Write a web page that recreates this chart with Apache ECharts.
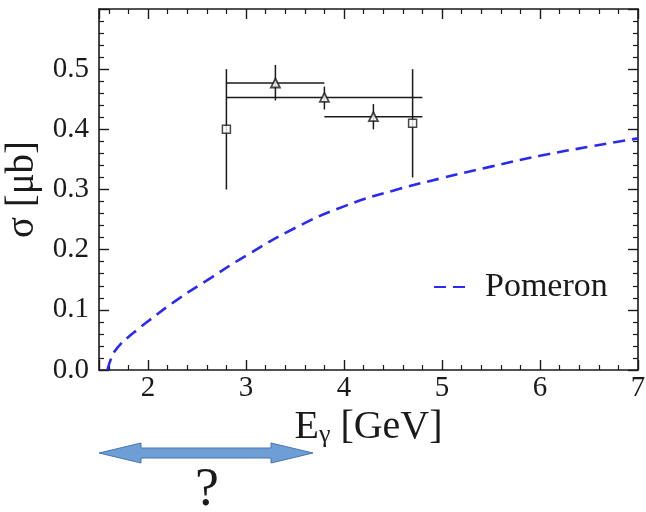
<!DOCTYPE html>
<html>
<head>
<meta charset="utf-8">
<script src="https://cdn.jsdelivr.net/npm/echarts@6/dist/echarts.min.js"></script>
<style>
  html, body { margin: 0; padding: 0; background: #fff; }
  #chart { width: 646px; height: 512px; }
</style>
</head>
<body>
<div id="chart"></div>
<script>
  // Pomeron curve
  var pomX = [1.585, 1.63, 1.66, 1.72, 1.8, 1.9, 2.0, 2.3, 2.65, 3.0, 3.5, 4.0, 4.5, 5.0, 5.5, 6.0, 6.5, 7.0];
  var pomY = [0.0, 0.022, 0.031, 0.043, 0.055, 0.068, 0.081, 0.117, 0.154, 0.190, 0.236, 0.272, 0.298, 0.319, 0.338, 0.356, 0.371, 0.385];

  // open squares
  var sqX = [2.8, 4.7];
  var sqY = [0.40, 0.41];
  var sqLo = [0.30, 0.32];
  var sqHi = [0.50, 0.50];

  // triangles
  var triX = [3.3, 3.8, 4.3];
  var triY = [0.477, 0.453, 0.421];
  var triLo = [0.448, 0.433, 0.400];
  var triHi = [0.507, 0.471, 0.442];
  var triXLo = [2.8, 2.8, 3.8];
  var triXHi = [3.8, 4.8, 4.8];

  var yTicks = ['0.0', '0.1', '0.2', '0.3', '0.4', '0.5'];

  var serif = 'Liberation Serif';
  var ink = '#1a1a1a';

  var pomData = pomX.map(function (x, i) { return [x, pomY[i]]; });
  var sqData = sqX.map(function (x, i) { return [x, sqY[i]]; });
  var triData = triX.map(function (x, i) { return [x, triY[i]]; });
  var vErr = [];
  sqX.forEach(function (x, i) { vErr.push([x, sqLo[i], sqHi[i]]); });
  triX.forEach(function (x, i) { vErr.push([x, triLo[i], triHi[i]]); });
  var hErr = triX.map(function (x, i) { return [triY[i], triXLo[i], triXHi[i]]; });

  function vBar(params, api) {
    var a = api.coord([api.value(0), api.value(1)]);
    var b = api.coord([api.value(0), api.value(2)]);
    return { type: 'line', shape: { x1: a[0], y1: a[1], x2: b[0], y2: b[1] },
      style: { stroke: ink, lineWidth: 1.5 } };
  }
  function hBar(params, api) {
    var a = api.coord([api.value(1), api.value(0)]);
    var b = api.coord([api.value(2), api.value(0)]);
    return { type: 'line', shape: { x1: a[0], y1: a[1], x2: b[0], y2: b[1] },
      style: { stroke: ink, lineWidth: 1.5 } };
  }

  var frameLine = { show: true, onZero: false, lineStyle: { color: ink, width: 1.6 } };
  var tick = { show: true, inside: true, length: 10, lineStyle: { color: ink, width: 1.4 } };
  var minor = { show: true, splitNumber: 5, length: 5, lineStyle: { color: ink, width: 1.2 } };

  var option = {
    animation: false,
    backgroundColor: '#fff',
    grid: { left: 99, right: 8, top: 9, bottom: 142, outerBoundsMode: 'none' },
    legend: {
      left: 428, top: 265,
      itemWidth: 38, itemHeight: 14,
      data: ['Pomeron'],
      itemStyle: { opacity: 0 },
      textStyle: { fontFamily: serif, fontSize: 34, color: ink, padding: [0, 0, 0, 8] }
    },
    xAxis: [{
      type: 'value', min: 1.5, max: 7, position: 'bottom',
      axisLine: frameLine, axisTick: tick, minorTick: minor,
      splitLine: { show: false },
      axisLabel: { showMinLabel: false, fontFamily: serif, fontSize: 29, color: ink, margin: 4 },
      name: '{e|E}{g|γ}{e| [GeV]}',
      nameLocation: 'middle', nameGap: 25,
      nameTextStyle: {
        rich: {
          e: { fontFamily: serif, fontSize: 40, color: ink },
          g: { fontFamily: serif, fontSize: 26, color: ink, verticalAlign: 'bottom', padding: [14, 0, 0, 0] }
        }
      }
    }, {
      type: 'value', min: 1.5, max: 7, position: 'top',
      axisLine: frameLine, axisTick: tick, minorTick: minor,
      splitLine: { show: false }, axisLabel: { show: false }
    }],
    yAxis: [{
      type: 'value', min: 0, max: 0.6, interval: 0.1, position: 'left',
      axisLine: frameLine, axisTick: tick, minorTick: minor,
      splitLine: { show: false },
      axisLabel: {
        showMaxLabel: false, fontFamily: serif, fontSize: 29, color: ink, margin: 10,
        formatter: function (v) { return yTicks[Math.round(v * 10)] || ''; }
      },
      name: 'σ [μb]',
      nameLocation: 'middle', nameGap: 47,
      nameTextStyle: { fontFamily: serif, fontSize: 39, color: ink }
    }, {
      type: 'value', min: 0, max: 0.6, interval: 0.1, position: 'right',
      axisLine: frameLine, axisTick: tick, minorTick: minor,
      splitLine: { show: false }, axisLabel: { show: false }
    }],
    series: [{
      name: 'Pomeron', type: 'line', data: pomData,
      smooth: 0.5,
      showSymbol: false, symbol: 'none',
      lineStyle: { color: '#2a2af2', width: 2.6, type: [12, 7] },
      itemStyle: { color: '#2a2af2' }
    }, {
      type: 'custom', renderItem: vBar, data: vErr, z: 3,
      encode: { x: 0, y: [1, 2] }
    }, {
      type: 'custom', renderItem: hBar, data: hErr, z: 3,
      encode: { x: [1, 2], y: 0 }
    }, {
      type: 'scatter', data: sqData, symbol: 'rect', symbolSize: 8, z: 5,
      itemStyle: { color: '#fff', borderColor: ink, borderWidth: 1.5 }
    }, {
      type: 'scatter', data: triData, symbol: 'triangle', symbolSize: 9, z: 5,
      itemStyle: { color: '#fff', borderColor: ink, borderWidth: 1.8 }
    }],
    graphic: [{
      type: 'polygon',
      shape: { points: [[99, 453], [141, 443], [141, 448], [271, 448], [271, 443], [313, 453],
        [271, 463], [271, 458], [141, 458], [141, 463]] },
      style: { fill: '#6d9ed6', stroke: '#4677b3', lineWidth: 1 }
    }, {
      type: 'text', left: 195, top: 464,
      style: { text: '?', font: '54px "Liberation Serif"', fill: ink }
    }]
  };

  echarts.init(document.getElementById('chart')).setOption(option);
</script>
</body>
</html>
